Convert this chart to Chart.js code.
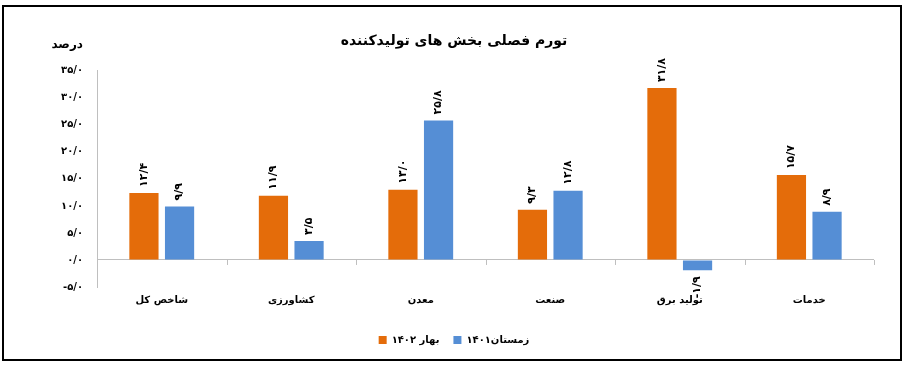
<!DOCTYPE html>
<html>
<head>
<meta charset="utf-8">
<script src="https://cdn.jsdelivr.net/npm/chart.js@4"></script>
<style>
  body { margin: 0; background: #fff; }
  #frame { position: absolute; left: 2px; top: 5px; width: 896px; height: 352px; border: 2px solid #000; }
  #myChart { position: absolute; left: 0; top: 0; }
</style>
</head>
<body>
<div id="frame"></div>
<canvas id="myChart" width="908" height="367"></canvas>
<script>
// chart data
const categories = ['شاخص کل', 'کشاورزی', 'معدن', 'صنعت', 'تولید برق', 'خدمات'];
const spring1402 = [12.4, 11.9, 13.0, 9.3, 31.8, 15.7];
const winter1401 = [9.9, 3.5, 25.8, 12.8, -1.9, 8.9];
const seriesNames = ['بهار ۱۴۰۲', 'زمستان۱۴۰۱'];
const yMin = -5, yMax = 35, yStep = 5;

const FONT = 'DejaVu Sans';

// number -> persian digits with "/" as decimal mark
function fa(v) {
  return v.toFixed(1).replace('.', '/').replace(/\d/g, d => '۰۱۲۳۴۵۶۷۸۹'[d]);
}

// extra drawing: value labels, small ticks on the zero line, unit text
const extras = {
  id: 'extras',
  afterDraw(chart) {
    const ctx = chart.ctx;
    const x = chart.scales.x, y = chart.scales.y;
    const zeroY = y.getPixelForValue(0);

    // tick marks between categories
    ctx.save();
    ctx.strokeStyle = '#BFBFBF';
    ctx.lineWidth = 1;
    const w = (x.right - x.left) / categories.length;
    for (let k = 1; k <= categories.length; k++) {
      const px = Math.round(x.left + k * w) + 0.5;
      ctx.beginPath();
      ctx.moveTo(px, zeroY);
      ctx.lineTo(px, zeroY + 5);
      ctx.stroke();
    }
    ctx.restore();

    // rotated value labels
    ctx.save();
    ctx.fillStyle = '#000';
    ctx.font = 'bold 11px "' + FONT + '"';
    ctx.textBaseline = 'middle';
    chart.data.datasets.forEach((ds, i) => {
      chart.getDatasetMeta(i).data.forEach((bar, j) => {
        const v = ds.data[j];
        ctx.save();
        ctx.translate(bar.x, bar.y);
        ctx.rotate(-Math.PI / 2);
        if (v >= 0) {
          ctx.textAlign = 'left';
          ctx.fillText(fa(v), 6, 0);
        } else {
          ctx.textAlign = 'right';
          ctx.fillText(fa(v), -6, 0);
        }
        ctx.restore();
      });
    });
    ctx.restore();

    // unit label above the y axis
    ctx.save();
    ctx.fillStyle = '#000';
    ctx.font = 'bold 12px "' + FONT + '"';
    ctx.textAlign = 'right';
    ctx.textBaseline = 'middle';
    ctx.fillText('درصد', chart.chartArea.left - 14, 45);
    ctx.restore();
  }
};

new Chart(document.getElementById('myChart'), {
  type: 'bar',
  data: {
    labels: categories,
    datasets: [
      { label: seriesNames[0], data: spring1402, backgroundColor: '#E46C0A' },
      { label: seriesNames[1], data: winter1401, backgroundColor: '#558ED5' }
    ]
  },
  options: {
    responsive: false,
    animation: false,
    devicePixelRatio: 1,
    categoryPercentage: 0.55,
    barPercentage: 0.82,
    layout: { padding: { left: 0, right: 0, bottom: 12 } },
    scales: {
      x: {
        grid: { display: false },
        border: { display: false },
        afterFit(s) { s.height = 34; },
        ticks: { color: '#000', font: { family: FONT, size: 10, weight: 'bold' }, padding: -1 }
      },
      y: {
        min: yMin,
        max: yMax,
        afterFit(s) { s.width = 97; },
        grid: {
          drawTicks: false,
          color: c => (c.tick && c.tick.value === 0 ? '#BFBFBF' : 'rgba(0,0,0,0)')
        },
        border: { display: true, color: '#BFBFBF' },
        ticks: {
          stepSize: yStep,
          padding: 14,
          color: '#000',
          font: { family: FONT, size: 10, weight: 'bold' },
          callback: v => fa(v)
        }
      },
      // empty right axis, only keeps the space on the right side
      yRight: {
        position: 'right',
        afterFit(s) { s.width = 34; },
        grid: { display: false },
        border: { display: false },
        ticks: { display: false }
      }
    },
    plugins: {
      title: {
        display: true,
        text: 'تورم فصلی بخش های تولیدکننده',
        color: '#000',
        font: { family: FONT, size: 14, weight: 'bold' },
        padding: { top: 33, bottom: 21 }
      },
      legend: {
        position: 'bottom',
        labels: {
          boxWidth: 8,
          boxHeight: 8,
          color: '#000',
          padding: 14,
          font: { family: FONT, size: 10, weight: 'bold' }
        }
      },
      tooltip: { enabled: false }
    }
  },
  plugins: [extras]
});
</script>
</body>
</html>
